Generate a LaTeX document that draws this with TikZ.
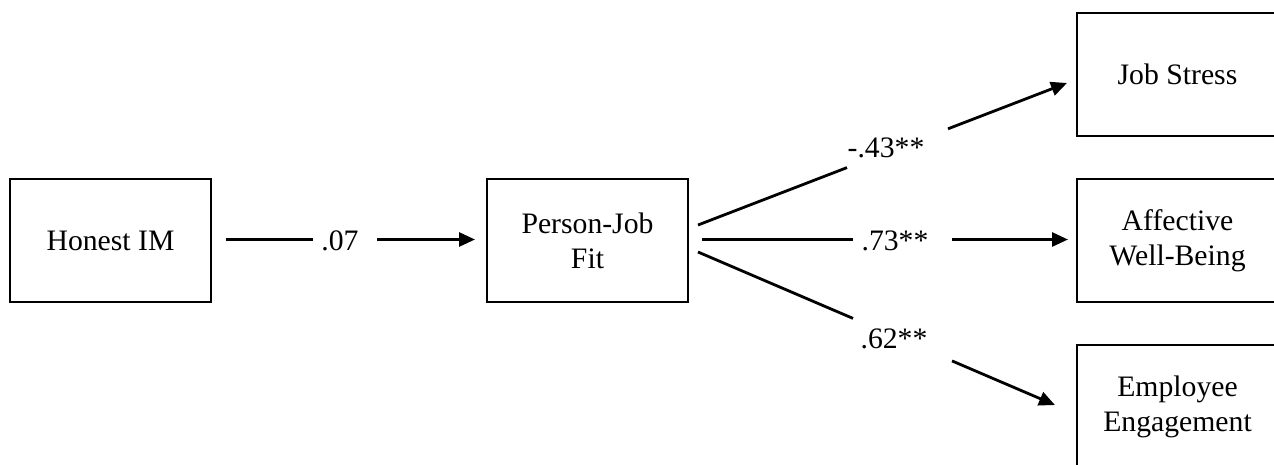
\documentclass[tikz,border=0pt]{standalone}
\usepackage{fontspec}
\setmainfont{Liberation Serif}
\usetikzlibrary{arrows.meta}
\begin{document}
\begin{tikzpicture}[x=1pt,y=-1pt,
  box/.style={draw, line width=2.8pt, minimum width=201pt, minimum height=123pt,
    align=center, inner sep=0pt, font=\fontsize{29.7}{35}\selectfont},
  conn/.style={line width=2.8pt},
  arr/.style={conn, -{Triangle[length=16pt,width=14pt]}},
  lab/.style={anchor=base, inner sep=0pt, font=\fontsize{29.7}{35}\selectfont}]
\useasboundingbox (0,0) rectangle (1274,464);
\clip (0,0) rectangle (1274,464);
% boxes
\node[box] (honest) at (110.5,240.5) {Honest IM};
\node[box] (pjf)    at (587.5,240.5) {Person-Job\\Fit};
\node[box] (stress) at (1177.5,74.5) {Job Stress};
\node[box] (awb)    at (1177.5,240.5) {Affective\\Well-Being};
\node[box] (eng)    at (1177.5,406.5) {Employee\\Engagement};
% connector points
\coordinate (a0) at (226,239.5);
\coordinate (a1) at (313,239.5);
\coordinate (a2) at (377,239.5);
\coordinate (a3) at (475,239.5);
\coordinate (s0) at (698,225);
\coordinate (s1) at (847,167.6);
\coordinate (s2) at (948,128.8);
\coordinate (s3) at (1067,83);
\coordinate (w0) at (702,239.5);
\coordinate (w1) at (853,239.5);
\coordinate (w2) at (952,239.5);
\coordinate (w3) at (1068,239.5);
\coordinate (e0) at (698,252);
\coordinate (e1) at (853,318.4);
\coordinate (e2) at (952,360.9);
\coordinate (e3) at (1055,405);
% connectors
\draw[conn] (a0) -- (a1);
\draw[arr]  (a2) -- (a3);
\draw[conn] (s0) -- (s1);
\draw[arr]  (s2) -- (s3);
\draw[conn] (w0) -- (w1);
\draw[arr]  (w2) -- (w3);
\draw[conn] (e0) -- (e1);
\draw[arr]  (e2) -- (e3);
% labels
\node[lab] (l07) at (340,250) {.07};
\node[lab] (l43) at (886,157) {-.43**};
\node[lab] (l73) at (895,250) {.73**};
\node[lab] (l62) at (894,348) {.62**};
\end{tikzpicture}
\end{document}
